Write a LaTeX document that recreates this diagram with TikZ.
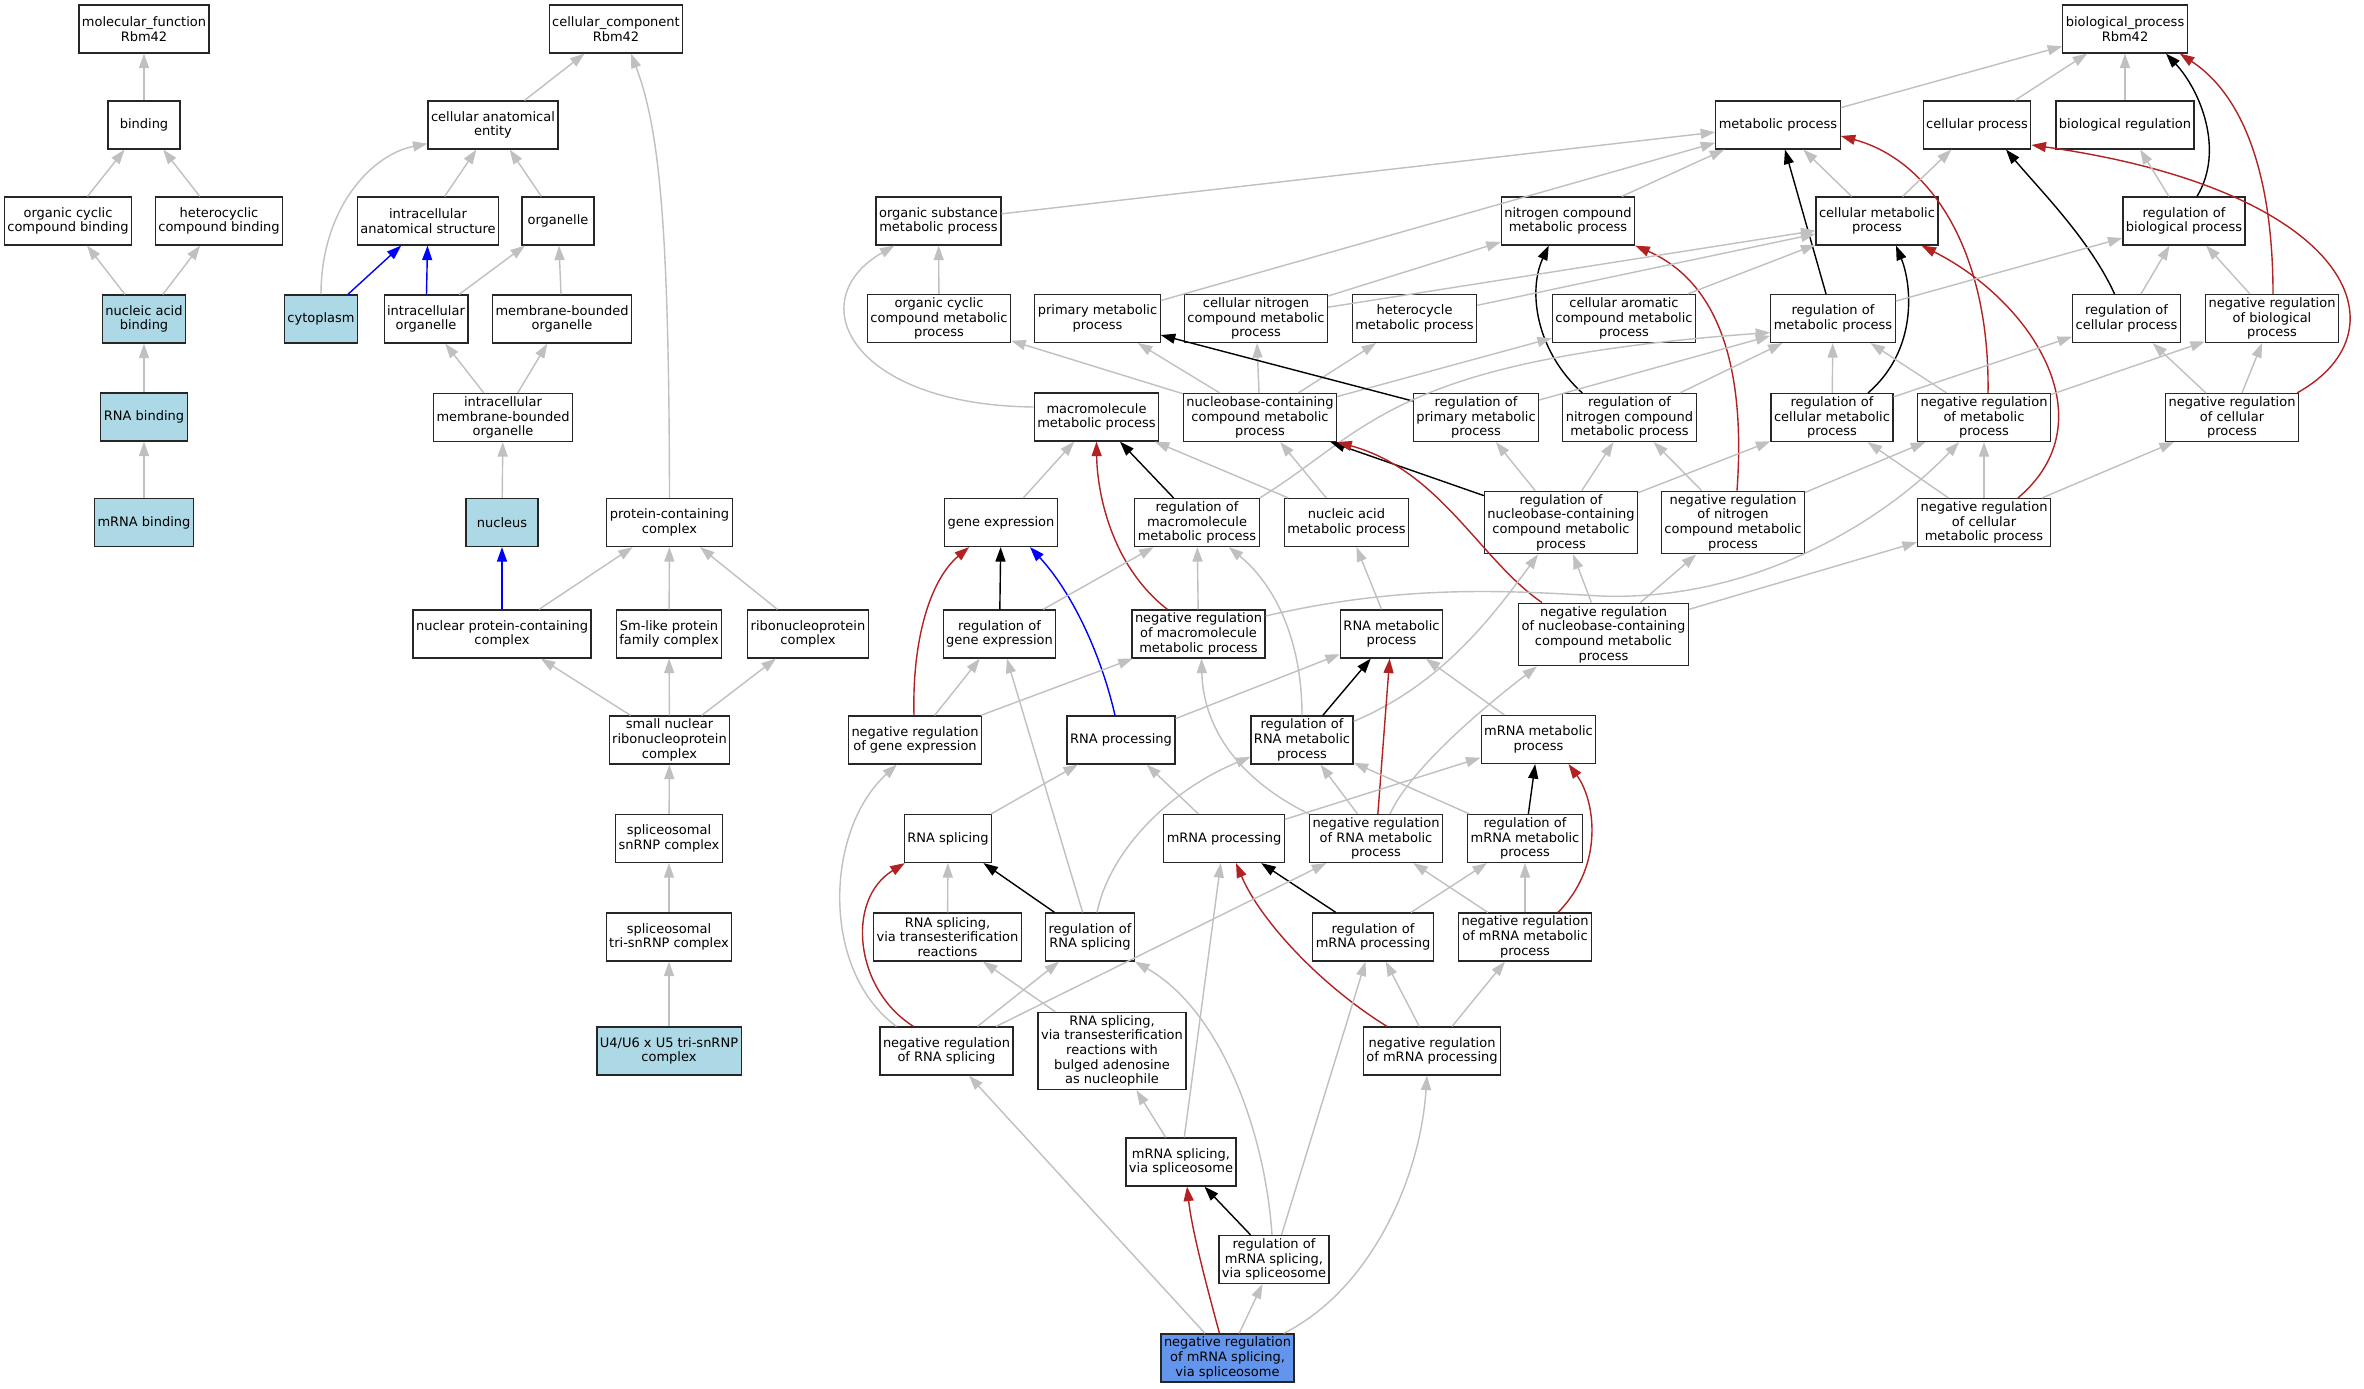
\documentclass[tikz,border=0pt]{standalone}
\usepackage{fontspec}
\setmainfont{DejaVu Sans}
\usetikzlibrary{arrows.meta,calc}
\definecolor{isagray}{HTML}{C0C0C0}
\definecolor{firebrick}{HTML}{B22222}
\definecolor{lightblue}{HTML}{ADD8E6}
\definecolor{cornflower}{HTML}{6495ED}
\tikzset{goterm/.style={rectangle,draw=black!85,line width=1.2pt,fill=white,align=center,inner xsep=3pt,inner ysep=3pt,minimum width=72pt,minimum height=48pt,font=\fontsize{13}{14.7}\selectfont}}
\tikzset{hit/.style={goterm,fill=lightblue}}
\tikzset{query/.style={goterm,fill=cornflower}}
\tikzset{golink/.style={->,>={Triangle[length=14.5pt,width=10pt]},line width=1.4pt}}
\tikzset{isa/.style={golink,isagray}}
\tikzset{regul/.style={golink,black}}
\tikzset{negreg/.style={golink,firebrick}}
\tikzset{partof/.style={golink,blue}}

\begin{document}
\begin{tikzpicture}[x=1pt,y=-1pt]
    \fill[white] (0,0) rectangle (2364,1389);
    \useasboundingbox (0,0) rectangle (2364,1389);
    % molecular function
    \node[goterm] (mf) at (144,29) {molecular\_function\\Rbm42};
    \node[goterm] (bind) at (144,125) {binding};
    \node[goterm] (occb) at (68,221) {organic cyclic\\compound binding};
    \node[goterm] (hccb) at (219,221) {heterocyclic\\compound binding};
    \node[hit] (nab) at (144,319) {nucleic acid\\binding};
    \node[hit] (rnab) at (144,417) {RNA binding};
    \node[hit] (mrnab) at (144,522.5) {mRNA binding};
    % cellular component
    \node[goterm] (cc) at (616,29) {cellular\_component\\Rbm42};
    \node[goterm] (cae) at (493,125) {cellular anatomical\\entity};
    \node[goterm] (ias) at (428,221) {intracellular\\anatomical structure};
    \node[goterm] (orgl) at (558,221) {organelle};
    \node[hit] (cyto) at (321,319) {cytoplasm};
    \node[goterm] (io) at (426,319) {intracellular\\organelle};
    \node[goterm] (mbo) at (562,319) {membrane-bounded\\organelle};
    \node[goterm] (imbo) at (503,417.5) {intracellular\\membrane-bounded\\organelle};
    \node[hit] (nucl) at (502,522.5) {nucleus};
    \node[goterm] (pcc) at (669.5,522.5) {protein-containing\\complex};
    \node[goterm] (npcc) at (502,634) {nuclear protein-containing\\complex};
    \node[goterm] (sml) at (669,634) {Sm-like protein\\family complex};
    \node[goterm] (rnp) at (808,634) {ribonucleoprotein\\complex};
    \node[goterm] (snrnp) at (669.5,740) {small nuclear\\ribonucleoprotein\\complex};
    \node[goterm] (splsn) at (669,838.5) {spliceosomal\\snRNP complex};
    \node[goterm] (tri) at (669,937) {spliceosomal\\tri-snRNP complex};
    \node[hit] (u4) at (669,1051) {U4/U6 x U5 tri-snRNP\\complex};
    % biological process
    \node[goterm] (bp) at (2125,29) {biological\_process\\Rbm42};
    \node[goterm] (mp) at (1778,125) {metabolic process};
    \node[goterm] (cp) at (1977,125) {cellular process};
    \node[goterm] (br) at (2125,125) {biological regulation};
    \node[goterm] (osmp) at (938.5,221) {organic substance\\metabolic process};
    \node[goterm] (ncmp) at (1568,221) {nitrogen compound\\metabolic process};
    \node[goterm] (cmp) at (1877,221) {cellular metabolic\\process};
    \node[goterm] (rbp) at (2184,221) {regulation of\\biological process};
    \node[goterm] (ocmp) at (939,318.5) {organic cyclic\\compound metabolic\\process};
    \node[goterm] (pmp) at (1097.5,318.5) {primary metabolic\\process};
    \node[goterm] (cncmp) at (1256,318.5) {cellular nitrogen\\compound metabolic\\process};
    \node[goterm] (hmp) at (1414.5,318.5) {heterocycle\\metabolic process};
    \node[goterm] (cacmp) at (1624,318.5) {cellular aromatic\\compound metabolic\\process};
    \node[goterm] (rmp) at (1833,318.5) {regulation of\\metabolic process};
    \node[goterm] (rcp) at (2126.5,318.5) {regulation of\\cellular process};
    \node[goterm] (nrbp) at (2272,318.5) {negative regulation\\of biological\\process};
    \node[goterm] (mmp) at (1096.5,417) {macromolecule\\metabolic process};
    \node[goterm] (nbmp) at (1260,417.5) {nucleobase-containing\\compound metabolic\\process};
    \node[goterm] (rpmp) at (1476,417.5) {regulation of\\primary metabolic\\process};
    \node[goterm] (rncmp) at (1629.5,417.5) {regulation of\\nitrogen compound\\metabolic process};
    \node[goterm] (rcmp) at (1832,417.5) {regulation of\\cellular metabolic\\process};
    \node[goterm] (nrmp) at (1984,417.5) {negative regulation\\of metabolic\\process};
    \node[goterm] (nrcp) at (2232,417.5) {negative regulation\\of cellular\\process};
    \node[goterm] (ge) at (1001,522.5) {gene expression};
    \node[goterm] (rmmp) at (1197,522.5) {regulation of\\macromolecule\\metabolic process};
    \node[goterm] (namp) at (1346.5,522.5) {nucleic acid\\metabolic process};
    \node[goterm] (rnbmp) at (1561,522.5) {regulation of\\nucleobase-containing\\compound metabolic\\process};
    \node[goterm] (nrncmp) at (1733,522.5) {negative regulation\\of nitrogen\\compound metabolic\\process};
    \node[goterm] (nrcmp) at (1984,522.5) {negative regulation\\of cellular\\metabolic process};
    \node[goterm] (rge) at (999.5,634) {regulation of\\gene expression};
    \node[goterm] (nrmmp) at (1198.5,634) {negative regulation\\of macromolecule\\metabolic process};
    \node[goterm] (rnamp) at (1391.5,634) {RNA metabolic\\process};
    \node[goterm] (nrnbmp) at (1603.5,634.5) {negative regulation\\of nucleobase-containing\\compound metabolic\\process};
    \node[goterm] (nrge) at (915,740) {negative regulation\\of gene expression};
    \node[goterm] (rnaproc) at (1121,740) {RNA processing};
    \node[goterm] (rrnamp) at (1302,740) {regulation of\\RNA metabolic\\process};
    \node[goterm] (mrnamp) at (1538.5,739.5) {mRNA metabolic\\process};
    \node[goterm] (rnaspl) at (948,838.5) {RNA splicing};
    \node[goterm] (mrnaproc) at (1224,838.5) {mRNA processing};
    \node[goterm] (nrrnamp) at (1376,838.5) {negative regulation\\of RNA metabolic\\process};
    \node[goterm] (rmrnamp) at (1525,838.5) {regulation of\\mRNA metabolic\\process};
    \node[goterm] (rst) at (947.5,937) {RNA splicing,\\via transesterification\\reactions};
    \node[goterm] (rrs) at (1090,937) {regulation of\\RNA splicing};
    \node[goterm] (rmrnaproc) at (1373,937) {regulation of\\mRNA processing};
    \node[goterm] (nrmrnamp) at (1525,937) {negative regulation\\of mRNA metabolic\\process};
    \node[goterm] (nrrs) at (946.5,1051) {negative regulation\\of RNA splicing};
    \node[goterm] (rsba) at (1112,1051) {RNA splicing,\\via transesterification\\reactions with\\bulged adenosine\\as nucleophile};
    \node[goterm] (nrmrnaproc) at (1432,1051) {negative regulation\\of mRNA processing};
    \node[goterm] (mspl) at (1181,1162) {mRNA splicing,\\via spliceosome};
    \node[goterm] (rmspl) at (1274,1259.5) {regulation of\\mRNA splicing,\\via spliceosome};
    \node[query] (nrmspl) at (1227.5,1358) {negative regulation\\of mRNA splicing,\\via spliceosome};

    \draw[isa] (bind) -- (mf);
    \draw[isa] (occb) -- (bind);
    \draw[isa] (hccb) -- (bind);
    \draw[isa] (nab) -- (occb);
    \draw[isa] (nab) -- (hccb);
    \draw[isa] (rnab) -- (nab);
    \draw[isa] (mrnab) -- (rnab);

    \draw[isa] (cae) -- (cc);
    \draw[isa] (pcc.north) .. controls (669,230) and (660,130) .. ($(cc.south)+(15,0)$);
    \draw[isa] (cyto.north) .. controls (321,210) and (370,155) .. ($(cae.south west)+(0,-6)$);
    \draw[isa] (ias) -- (cae);
    \draw[isa] (orgl) -- (cae);
    \draw[partof] (cyto) -- (ias);
    \draw[partof] (io) -- (ias);
    \draw[isa] (io) -- (orgl);
    \draw[isa] (mbo) -- (orgl);
    \draw[isa] (imbo) -- (io);
    \draw[isa] (imbo) -- (mbo);
    \draw[isa] (nucl) -- (imbo);
    \draw[partof] (npcc) -- (nucl);
    \draw[isa] (npcc) -- (pcc);
    \draw[isa] (sml) -- (pcc);
    \draw[isa] (rnp) -- (pcc);
    \draw[isa] (snrnp) -- (npcc);
    \draw[isa] (snrnp) -- (sml);
    \draw[isa] (snrnp) -- (rnp);
    \draw[isa] (splsn) -- (snrnp);
    \draw[isa] (tri) -- (splsn);
    \draw[isa] (u4) -- (tri);

    \draw[isa] (mp) -- (bp);
    \draw[isa] (cp) -- (bp);
    \draw[isa] (br) -- (bp);
    \draw[regul] ($(rbp.north)+(13,0)$) .. controls (2225,150) and (2200,90) .. ($(bp.south)+(41,0)$);
    \draw[negreg] ($(nrbp.north)+(1,0)$) .. controls (2273,190) and (2250,100) .. ($(bp.south east)+(-8,0)$);
    \draw[isa] (osmp) -- (mp);
    \draw[isa] (pmp) -- (mp);
    \draw[isa] (ncmp) -- (mp);
    \draw[isa] (cmp) -- (mp);
    \draw[regul] (rmp) -- (mp);
    \draw[negreg] ($(nrmp.north)+(4,0)$) .. controls (1990,250) and (1930,160) .. ($(mp.east)+(0,11)$);
    \draw[isa] (cmp) -- (cp);
    \draw[regul] ($(rcp.north)+(-12,0)$) .. controls (2090,240) and (2040,190) .. ($(cp.south)+(29,0)$);
    \draw[negreg] ($(nrcp.north east)+(-2,0)$) .. controls (2410,330) and (2350,190) .. ($(cp.east)+(0,20)$);
    \draw[isa] (rbp) -- (br);
    \draw[isa] (ocmp) -- (osmp);
    \draw[isa] ($(mmp.west)+(0,-10)$) .. controls (850,405) and (800,300) .. ($(osmp.south west)+(19,0)$);
    \draw[isa] (cncmp) -- (ncmp);
    \draw[regul] ($(rncmp.north west)+(20,0)$) .. controls (1535,350) and (1528,290) .. ($(ncmp.south west)+(48,0)$);
    \draw[negreg] ($(nrncmp.north)+(4,0)$) .. controls (1745,380) and (1725,285) .. (ncmp.south east);
    \draw[isa] (cncmp) -- (cmp);
    \draw[isa] (hmp) -- (cmp);
    \draw[isa] (cacmp) -- (cmp);
    \draw[regul] ($(rcmp.north)+(36,0)$) .. controls (1918,350) and (1912,285) .. ($(cmp.south)+(19,0)$);
    \draw[negreg] ($(nrcmp.north)+(34,0)$) .. controls (2110,420) and (2030,300) .. ($(cmp.south east)+(-17,0)$);
    \draw[isa] (rmp) -- (rbp);
    \draw[isa] (rcp) -- (rbp);
    \draw[isa] (nrbp) -- (rbp);

    \draw[isa] (nbmp) -- (ocmp);
    \draw[isa] (nbmp) -- (pmp);
    \draw[isa] (nbmp) -- (cncmp);
    \draw[isa] (nbmp) -- (hmp);
    \draw[isa] (nbmp) -- (cacmp);
    \draw[regul] (rpmp) -- (pmp);
    \draw[isa] (rpmp) -- (rmp);
    \draw[isa] (rmmp.north east) .. controls (1370,430) and (1390,360) .. ($(rmp.west)+(0,14)$);
    \draw[isa] (rncmp) -- (rmp);
    \draw[isa] (rcmp) -- (rmp);
    \draw[isa] (nrmp) -- (rmp);
    \draw[isa] (rcmp) -- (rcp);
    \draw[isa] (nrcp) -- (rcp);
    \draw[isa] (nrmp) -- (nrbp);
    \draw[isa] (nrcp) -- (nrbp);

    \draw[isa] (ge) -- (mmp);
    \draw[isa] (namp) -- (mmp);
    \draw[regul] (rmmp) -- (mmp);
    \draw[negreg] ($(nrmmp.north)+(-31,0)$) .. controls (1110,565) and (1097,490) .. (mmp.south);
    \draw[isa] (namp) -- (nbmp);
    \draw[regul] (rnbmp) -- (nbmp);
    \draw[negreg] ($(nrnbmp.north west)+(24,0)$) .. controls (1480,560) and (1440,470) .. (nbmp.south east);
    \draw[isa] (rnbmp) -- (rpmp);
    \draw[isa] (rnbmp) -- (rncmp);
    \draw[isa] (rnbmp) -- (rcmp);
    \draw[isa] (nrncmp) -- (rncmp);
    \draw[isa] (nrncmp) -- (nrmp);
    \draw[isa] (nrcmp) -- (rcmp);
    \draw[isa] (nrcmp) -- (nrmp);
    \draw[isa] (nrcmp) -- (nrcp);

    \draw[regul] (rge) -- (ge);
    \draw[negreg] ($(nrge.north)+(-1,0)$) .. controls (912,640) and (930,580) .. ($(ge.south west)+(25,0)$);
    \draw[partof] ($(rnaproc.north)+(-6,0)$) .. controls (1100,650) and (1070,590) .. ($(ge.south)+(29,0)$);
    \draw[isa] (rge) -- (rmmp);
    \draw[isa] (nrmmp) -- (rmmp);
    \draw[isa] (rrnamp.north) .. controls (1302,640) and (1275,585) .. ($(rmmp.south east)+(-31,0)$);
    \draw[isa] (rnamp) -- (namp);
    \draw[isa] (nrnbmp) -- (rnbmp);
    \draw[isa] (nrnbmp) -- (nrncmp);
    \draw[isa] (nrnbmp) -- (nrcmp);
    \draw[isa] ($(rrnamp.north east)+(0,6)$) .. controls (1440,685) and (1490,620) .. ($(rnbmp.south)+(-23,0)$);
    \draw[isa] ($(nrmmp.east)+(0,-18)$) .. controls (1400,585) and (1500,590) .. (1600,596) .. controls (1760,602) and (1890,515) .. ($(nrmp.south)+(-25,0)$);
    \draw[isa] ($(nrrnamp.north)+(14,0)$) .. controls (1410,770) and (1480,710) .. ($(nrnbmp.south west)+(19,0)$);
    \draw[isa] (nrge) -- (rge);
    \draw[isa] (nrge) -- (nrmmp);
    \draw[isa] (rrs) -- (rge);
    \draw[isa] (nrrnamp.north west) .. controls (1230,775) and (1203,720) .. ($(nrmmp.south)+(3,0)$);

    \draw[isa] (rnaproc) -- (rnamp);
    \draw[regul] (rrnamp) -- (rnamp);
    \draw[negreg] (nrrnamp) -- (rnamp);
    \draw[isa] (mrnamp) -- (rnamp);
    \draw[isa] (rnaspl) -- (rnaproc);
    \draw[isa] (mrnaproc) -- (rnaproc);
    \draw[isa] ($(rrs.north)+(7,0)$) .. controls (1110,850) and (1170,790) .. ($(rrnamp.west)+(0,17)$);
    \draw[isa] (rmrnamp) -- (rrnamp);
    \draw[isa] (nrrnamp) -- (rrnamp);
    \draw[isa] (mrnaproc) -- (mrnamp);
    \draw[regul] (rmrnamp) -- (mrnamp);
    \draw[negreg] ($(nrmrnamp.north)+(33,0)$) .. controls (1605,865) and (1595,800) .. ($(mrnamp.south)+(30,0)$);

    \draw[isa] (rst) -- (rnaspl);
    \draw[regul] (rrs) -- (rnaspl);
    \draw[negreg] ($(nrrs.north)+(-33,0)$) .. controls (855,990) and (845,900) .. ($(rnaspl.south west)+(1,0)$);
    \draw[regul] (rmrnaproc) -- (mrnaproc);
    \draw[negreg] ($(nrmrnaproc.north)+(-45,0)$) .. controls (1320,985) and (1260,920) .. ($(mrnaproc.south)+(12,0)$);
    \draw[isa] (mspl) -- (mrnaproc);
    \draw[isa] (nrrs) -- (nrrnamp);
    \draw[isa] (nrmrnamp) -- (nrrnamp);
    \draw[isa] (rmrnaproc) -- (rmrnamp);
    \draw[isa] (nrmrnamp) -- (rmrnamp);
    \draw[isa] (rsba) -- (rst);
    \draw[isa] (nrrs) -- (rrs);
    \draw[isa] ($(rmspl.north)+(-2,0)$) .. controls (1265,1130) and (1220,1010) .. (rrs.south east);
    \draw[isa] (nrmrnaproc) -- (rmrnaproc);
    \draw[isa] (rmspl) -- (rmrnaproc);
    \draw[isa] (nrmrnaproc) -- (nrmrnamp);
    \draw[isa] ($(nrrs.north west)+(17,0)$) .. controls (820,970) and (825,830) .. ($(nrge.south west)+(49,0)$);

    \draw[isa] (nrmspl) -- (nrrs);
    \draw[isa] (mspl) -- (rsba);
    \draw[isa] ($(nrmspl.north east)+(-11,0)$) .. controls (1370,1290) and (1420,1180) .. ($(nrmrnaproc.south)+(-5,0)$);
    \draw[regul] (rmspl) -- (mspl);
    \draw[negreg] ($(nrmspl.north)+(-8,0)$) .. controls (1205,1280) and (1192,1230) .. ($(mspl.south)+(6,0)$);
    \draw[isa] (nrmspl) -- (rmspl);
\end{tikzpicture}
\end{document}
